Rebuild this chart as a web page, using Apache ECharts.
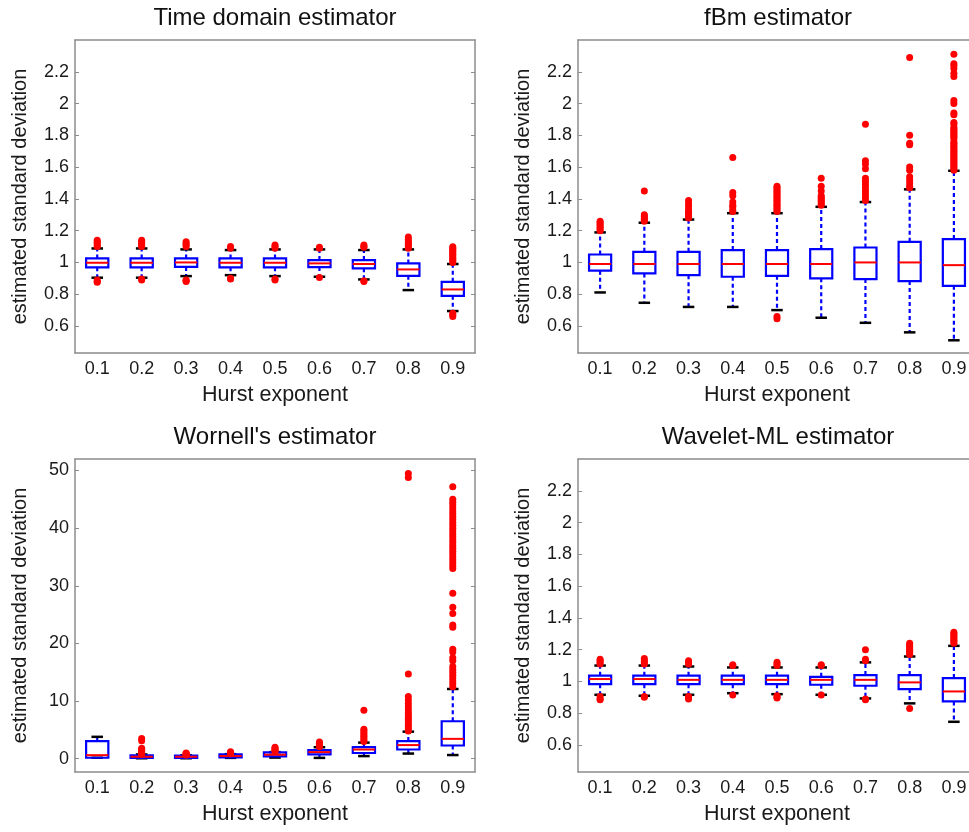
<!DOCTYPE html>
<html>
<head>
<meta charset="utf-8">
<script src="https://cdn.jsdelivr.net/npm/echarts@6/dist/echarts.min.js"></script>
<style>
html,body{margin:0;padding:0;background:#fff;overflow:hidden;}
#chart{width:969px;height:832px;}
</style>
</head>
<body>
<div id="chart"></div>
<script>
// ---- data ----
const hurst = ['0.1','0.2','0.3','0.4','0.5','0.6','0.7','0.8','0.9'];
const titles = ['Time domain estimator','fBm estimator',"Wornell's estimator",'Wavelet-ML estimator'];
const xName = 'Hurst exponent';
const yName = 'estimated standard deviation';
const sdTicks = [0.6,0.8,1,1.2,1.4,1.6,1.8,2,2.2];
const wornellTicks = [0,10,20,30,40,50];

// [lower whisker, Q1, median, Q3, upper whisker]
const timeBox = [
  [0.904,0.969,0.998,1.025,1.088],
  [0.904,0.969,0.998,1.025,1.088],
  [0.914,0.972,1.000,1.025,1.082],
  [0.920,0.969,0.998,1.025,1.078],
  [0.914,0.969,0.998,1.025,1.082],
  [0.910,0.971,0.994,1.015,1.082],
  [0.893,0.963,0.990,1.015,1.078],
  [0.826,0.916,0.956,0.994,1.082],
  [0.694,0.790,0.830,0.878,0.990]
];
const timeOut = [
  [1.10,1.11,1.12,1.13,1.14,0.89,0.88,0.875],
  [1.10,1.11,1.12,1.13,1.14,0.895,0.89],
  [1.10,1.11,1.12,1.13,0.89,0.885,0.88],
  [1.09,1.10,0.90,0.895],
  [1.09,1.10,1.11,0.895,0.89],
  [1.09,1.095,0.905],
  [1.095,1.10,1.11,0.885,0.88],
  [1.09,1.10,1.11,1.12,1.13,1.145,1.16],
  [1.00,1.01,1.02,1.03,1.04,1.05,1.06,1.07,1.08,1.09,1.098,0.68,0.67,0.66]
];

const fbmBox = [
  [0.811,0.948,0.990,1.050,1.189],
  [0.746,0.931,0.990,1.067,1.250],
  [0.720,0.920,0.990,1.067,1.270],
  [0.720,0.910,0.990,1.078,1.310],
  [0.700,0.916,0.990,1.078,1.310],
  [0.652,0.900,0.990,1.084,1.350],
  [0.620,0.895,1.000,1.094,1.380],
  [0.560,0.883,1.000,1.130,1.460],
  [0.510,0.853,0.983,1.147,1.577]
];
const fbmOut = [
  [1.20,1.21,1.22,1.23,1.24,1.25,1.26],
  [1.26,1.27,1.28,1.29,1.30,1.45],
  [1.28,1.29,1.30,1.31,1.32,1.33,1.35,1.37,1.39],
  [1.32,1.33,1.35,1.36,1.38,1.42,1.44,1.66],
  [1.32,1.33,1.34,1.35,1.36,1.37,1.38,1.39,1.40,1.41,1.42,1.43,1.44,1.45,1.46,1.47,1.48,0.66,0.645],
  [1.36,1.37,1.38,1.39,1.40,1.41,1.42,1.45,1.48,1.53],
  [1.39,1.41,1.43,1.45,1.47,1.49,1.51,1.53,1.59,1.62,1.64,1.87],
  [1.47,1.48,1.50,1.52,1.54,1.58,1.60,1.74,1.75,1.80,2.29],
  [1.58,1.59,1.60,1.61,1.62,1.63,1.64,1.65,1.66,1.67,1.68,1.69,1.70,1.71,1.72,1.73,1.74,1.75,1.76,1.78,1.79,1.80,1.81,1.82,1.83,1.84,1.85,1.87,1.88,1.93,1.94,2.00,2.02,2.17,2.19,2.22,2.24,2.25,2.31]
];

const wornellBox = [
  [0.17,0.17,0.62,3.05,3.80],
  [0.08,0.15,0.35,0.60,0.75],
  [0.08,0.15,0.35,0.55,0.60],
  [0.15,0.25,0.46,0.75,0.80],
  [0.20,0.40,0.70,1.10,1.15],
  [0.15,0.75,1.15,1.50,2.00],
  [0.46,1.00,1.60,2.00,2.80],
  [0.90,1.60,2.37,3.06,4.70],
  [0.64,2.30,3.45,6.50,12.10]
];
const wornellOut = [
  [],
  [0.8,1.0,1.2,1.4,1.6,1.8,3.1,3.5],
  [0.65,0.7,0.8,0.9,1.0],
  [0.85,0.9,1.0,1.1,1.2],
  [1.2,1.4,1.6,1.8,2.0],
  [2.1,2.3,2.5,2.7,2.9],
  [3.0,3.3,3.6,3.9,4.2,4.5,4.8,5.1,8.4],
  [4.8,5.2,5.6,6.0,6.4,6.8,7.2,7.6,8.0,8.5,9.0,9.6,10.2,10.8,14.7,48.8,49.5],
  [12.5,13.0,13.5,14.0,14.5,15.0,15.5,16.0,17.0,17.5,18.5,19.0,22.8,23.2,25.2,26.3,28.7,33.0,33.5,34.0,34.5,35.0,35.5,36.0,36.5,37.0,37.5,38.0,38.5,39.0,39.5,40.0,40.5,41.0,41.5,42.0,42.5,43.0,43.5,44.0,44.5,45.0,47.2]
];

const waveletBox = [
  [0.916,0.983,1.015,1.036,1.100],
  [0.910,0.983,1.015,1.036,1.100],
  [0.916,0.983,1.010,1.036,1.094],
  [0.926,0.983,1.010,1.036,1.088],
  [0.920,0.983,1.010,1.036,1.088],
  [0.916,0.979,1.010,1.029,1.088],
  [0.893,0.973,1.010,1.040,1.120],
  [0.862,0.952,0.994,1.040,1.157],
  [0.746,0.874,0.937,1.021,1.224]
];
const waveletOut = [
  [1.11,1.12,1.13,1.14,0.905,0.89,0.885],
  [1.11,1.12,1.13,1.145,0.905,0.90],
  [1.11,1.12,1.13,0.905,0.895,0.89],
  [1.10,1.105,0.915],
  [1.10,1.11,1.12,0.91,0.90,0.895],
  [1.10,1.105,0.915],
  [1.13,1.14,1.20,0.89,0.885],
  [1.17,1.18,1.19,1.20,1.21,1.22,1.23,1.24,0.83],
  [1.24,1.25,1.26,1.27,1.28,1.29,1.30,1.31]
];

// ---- layout ----
const FONT = 'Liberation Sans, Arial, sans-serif';
const grids = [
  {left:75, top:40, width:400, height:313, containLabel:false, outerBoundsMode:'none'},
  {left:578, top:40, width:398, height:313, containLabel:false, outerBoundsMode:'none'},
  {left:75, top:459, width:400, height:313, containLabel:false, outerBoundsMode:'none'},
  {left:578, top:459, width:398, height:313, containLabel:false, outerBoundsMode:'none'}
];
const panels = [
  {box:timeBox, out:timeOut, min:0.43, max:2.4, ticks:sdTicks, frameRight:true},
  {box:fbmBox, out:fbmOut, min:0.43, max:2.4, ticks:sdTicks, frameRight:false},
  {box:wornellBox, out:wornellOut, min:-2.3, max:52, ticks:wornellTicks, frameRight:true},
  {box:waveletBox, out:waveletOut, min:0.43, max:2.4, ticks:sdTicks, frameRight:false}
];

const AX = '#8c8c8c';
function renderBox(params, api){
  const i = api.value(0);
  const lo = api.coord([i, api.value(1)]);
  const q1 = api.coord([i, api.value(2)]);
  const md = api.coord([i, api.value(3)]);
  const q3 = api.coord([i, api.value(4)]);
  const hi = api.coord([i, api.value(5)]);
  const bw = api.size([1,0])[0];
  const hw = bw*0.25, cw = bw*0.13;
  const x = md[0];
  const dash = {stroke:'#0000ff', lineWidth:2.2, lineDash:[4,3]};
  return {type:'group', children:[
    {type:'line', shape:{x1:x,y1:q3[1],x2:x,y2:hi[1]}, style:dash},
    {type:'line', shape:{x1:x,y1:q1[1],x2:x,y2:lo[1]}, style:dash},
    {type:'line', shape:{x1:x-cw,y1:hi[1],x2:x+cw,y2:hi[1]}, style:{stroke:'#000',lineWidth:2.5}},
    {type:'line', shape:{x1:x-cw,y1:lo[1],x2:x+cw,y2:lo[1]}, style:{stroke:'#000',lineWidth:2.5}},
    {type:'rect', shape:{x:x-hw,y:q3[1],width:2*hw,height:q1[1]-q3[1]}, style:{fill:'none',stroke:'#0000ff',lineWidth:2.2}},
    {type:'line', shape:{x1:x-hw,y1:md[1],x2:x+hw,y2:md[1]}, style:{stroke:'#ff0000',lineWidth:2}}
  ]};
}

const option = {
  backgroundColor:'#fff',
  animation:false,
  grid: grids,
  xAxis: [], yAxis: [], series: [], graphic: []
};

// left value axes first (index k), then right mirror axes only where the frame is visible
panels.forEach((p, k) => {
  option.yAxis.push({
    type:'value', gridIndex:k, min:p.min, max:p.max, position:'left',
    name: yName, nameLocation:'middle', nameGap:45, nameRotate:90,
    nameTextStyle:{fontFamily:FONT, fontSize:20, color:'#1a1a1a'},
    axisLine:{show:true, onZero:false, lineStyle:{color:AX, width:1.5}},
    axisTick:{show:true, inside:true, length:4, customValues:p.ticks, lineStyle:{color:AX}},
    axisLabel:{fontFamily:FONT, fontSize:18, color:'#1a1a1a', margin:6, customValues:p.ticks,
      formatter:v=>String(v)},
    splitLine:{show:false}
  });
});
panels.forEach((p, k) => {
  if (!p.frameRight) return;
  option.yAxis.push({
    type:'value', gridIndex:k, min:p.min, max:p.max, position:'right',
    axisLine:{show:true, onZero:false, lineStyle:{color:AX, width:1.5}},
    axisTick:{show:true, inside:true, length:4, customValues:p.ticks, lineStyle:{color:AX}},
    axisLabel:{show:false}, splitLine:{show:false}
  });
});

panels.forEach((p, k) => {
  const g = grids[k];
  option.xAxis.push({
    type:'category', gridIndex:k, data:hurst, position:'bottom',
    name: xName, nameLocation:'middle', nameGap:31,
    nameTextStyle:{fontFamily:FONT, fontSize:21.5, color:'#1a1a1a'},
    axisLine:{onZero:false, lineStyle:{color:AX, width:1.5}},
    axisTick:{inside:true, alignWithLabel:true, length:4, lineStyle:{color:AX}},
    axisLabel:{fontFamily:FONT, fontSize:18, color:'#1a1a1a', margin:7},
    splitLine:{show:false}
  });
  option.xAxis.push({
    type:'category', gridIndex:k, data:hurst, position:'top',
    axisLine:{onZero:false, lineStyle:{color:AX, width:1.5}},
    axisTick:{inside:true, alignWithLabel:true, length:4, lineStyle:{color:AX}},
    axisLabel:{show:false}, splitLine:{show:false}
  });
  const xi = 2*k, yi = k;
  option.series.push({
    type:'custom', xAxisIndex:xi, yAxisIndex:yi,
    renderItem: renderBox,
    encode:{x:0, y:[1,2,3,4,5]},
    data: p.box.map((b,i)=>[i].concat(b)),
    z:2
  });
  const pts = [];
  p.out.forEach((arr,i)=>arr.forEach(v=>pts.push([i, v])));
  option.series.push({
    type:'scatter', xAxisIndex:xi, yAxisIndex:yi,
    symbol:'circle', symbolSize:7,
    itemStyle:{color:'#ff0000', opacity:1},
    data: pts, z:3
  });
  option.graphic.push({
    type:'text', x: g.left + 200, y: g.top - 22,
    style:{text:titles[k], fill:'#111', font:'24px ' + FONT, textAlign:'center', textVerticalAlign:'middle'}
  });
});

const chart = echarts.init(document.getElementById('chart'), null, {renderer:'canvas'});
chart.setOption(option);
</script>
</body>
</html>
